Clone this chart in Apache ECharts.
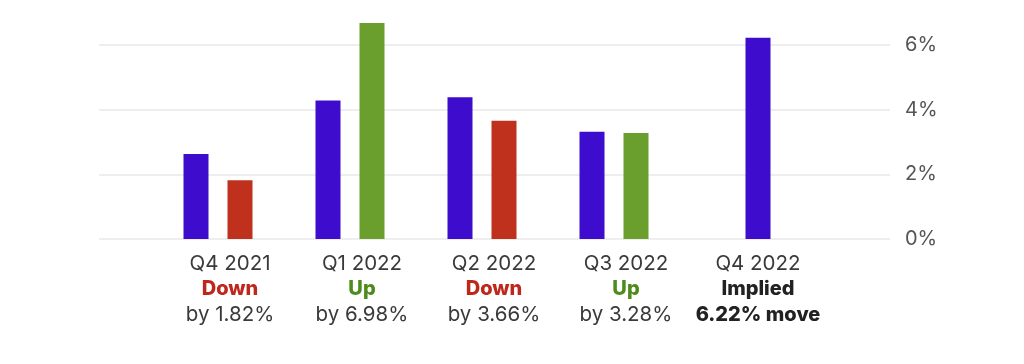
<!DOCTYPE html>
<html>
<head>
<meta charset="utf-8">
<script src="https://cdn.jsdelivr.net/npm/echarts@6/dist/echarts.min.js"></script>
<style>
html,body{margin:0;padding:0;background:#fff;}
#chart{width:1024px;height:364px;}
</style>
</head>
<body>
<div id="chart"></div>
<script>
// ---- data ----
var quarters = ['Q4 2021', 'Q1 2022', 'Q2 2022', 'Q3 2022', 'Q4 2022'];
var outcomeWords = ['Down', 'Up', 'Down', 'Up', 'Implied'];
var outcomeDetails = ['by 1.82%', 'by 6.98%', 'by 3.66%', 'by 3.28%', '6.22% move'];
var impliedPast = [2.63, 4.28, 4.38, 3.32, '-'];
var actualMove = [1.82, 6.98, 3.66, 3.28, '-'];
var actualDirection = ['down', 'up', 'down', 'up', null];
var impliedUpcoming = ['-', '-', '-', '-', 6.22];
var yTicks = [0, 2, 4, 6];

// ---- style ----
var PURPLE = '#3d0ccc', RED = '#bf311c', GREEN = '#6a9f2e';
var FONT = 'Inter';
var Y_MAX = 6.68;

var styleKey = { 'Down': 'down', 'Up': 'up', 'Implied': 'imp' };

var chart = echarts.init(document.getElementById('chart'), null, { renderer: 'canvas' });

var option = {
  backgroundColor: '#ffffff',
  animation: false,
  grid: [
    { left: 99, right: 134, top: 23, bottom: 125 },
    { left: 164, right: 200, top: 23, bottom: 125 }
  ],
  xAxis: [
    { gridIndex: 0, type: 'value', show: false, min: 0, max: 1 },
    {
      gridIndex: 1, type: 'category', data: quarters,
      axisLine: { show: false }, axisTick: { show: false },
      axisLabel: {
        interval: 0, margin: 12,
        formatter: function (v, i) {
          var w = outcomeWords[i];
          var k = styleKey[w];
          var detailStyle = (k === 'imp') ? 'impb' : 'by';
          return '{q|' + v + '}\n{' + k + '|' + w + '}\n{' + detailStyle + '|' + outcomeDetails[i] + '}';
        },
        rich: {
          q: { fontFamily: FONT, fontSize: 20.5, color: '#3a3a3a', lineHeight: 25.5, align: 'center' },
          down: { fontFamily: FONT, fontSize: 20, fontWeight: 800, color: '#bf271d', lineHeight: 25.5, align: 'center' },
          up: { fontFamily: FONT, fontSize: 20, fontWeight: 800, color: '#4f8a1d', lineHeight: 25.5, align: 'center' },
          imp: { fontFamily: FONT, fontSize: 20, fontWeight: 800, color: '#222222', lineHeight: 25.5, align: 'center' },
          by: { fontFamily: FONT, fontSize: 20.5, color: '#3a3a3a', lineHeight: 25.5, align: 'center' },
          impb: { fontFamily: FONT, fontSize: 20, fontWeight: 800, color: '#222222', lineHeight: 25.5, align: 'center' }
        }
      }
    },
    { gridIndex: 1, type: 'category', data: quarters, show: false }
  ],
  yAxis: [
    {
      gridIndex: 0, type: 'value', position: 'right', min: 0, max: Y_MAX, interval: 2,
      axisLine: { show: false }, axisTick: { show: false },
      splitLine: { show: true, showMaxLine: false, lineStyle: { color: '#eeeeee', width: 2 } },
      axisLabel: {
        margin: 15, showMaxLabel: false,
        fontFamily: FONT, fontSize: 20, color: '#555555',
        formatter: function (v) { return yTicks.indexOf(v) >= 0 ? v + '%' : ''; }
      }
    },
    { gridIndex: 1, type: 'value', min: 0, max: Y_MAX, interval: 2, show: false, splitLine: { show: false } }
  ],
  series: [
    {
      name: 'Implied move', type: 'bar', xAxisIndex: 1, yAxisIndex: 1,
      data: impliedPast, barWidth: 25, barGap: '76%',
      itemStyle: { color: PURPLE }
    },
    {
      name: 'Actual move', type: 'bar', xAxisIndex: 1, yAxisIndex: 1,
      data: actualMove.map(function (v, i) {
        return { value: v, itemStyle: { color: actualDirection[i] === 'up' ? GREEN : RED } };
      }),
      barWidth: 25, barGap: '76%'
    },
    {
      name: 'spacer', type: 'bar', xAxisIndex: 1, yAxisIndex: 1, silent: true,
      data: ['-', '-', '-', '-', '-'], barWidth: 5, barGap: '76%',
      itemStyle: { color: 'transparent' }
    },
    {
      name: 'Implied move (upcoming)', type: 'bar', xAxisIndex: 2, yAxisIndex: 1,
      data: impliedUpcoming, barWidth: 25,
      itemStyle: { color: PURPLE }
    }
  ]
};
chart.setOption(option);
</script>
</body>
</html>
